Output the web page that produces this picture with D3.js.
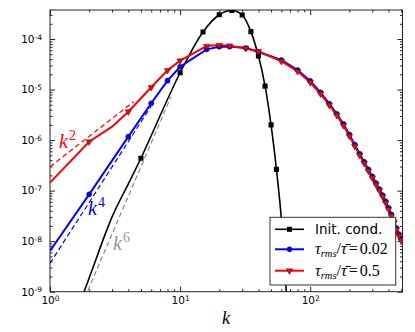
<!DOCTYPE html>
<html>
<head>
<meta charset="utf-8">
<script src="https://cdnjs.cloudflare.com/ajax/libs/d3/7.8.5/d3.min.js"></script>
<style>
  body { margin: 0; background: #fff; }
  svg { display: block; }
  .tick text { font-family: "DejaVu Sans", sans-serif; font-size: 10.5px; fill: #000; }
  .tick line { stroke: #222; }
</style>
</head>
<body>
<div id="chart-area"></div>
<script>
// initial condition spectrum
const kInit = [1, 2, 3, 4, 5, 10, 15, 20, 25, 30, 35, 40, 45, 50, 55, 60, 65, 70];
const eInit = [1.5e-11, 1.87e-9, 3.03e-8, 1.36e-7, 4.37e-7, 2.15e-5, 1.38e-4, 3.02e-4, 3.67e-4,
  2.99e-4, 1.4e-4, 4.6e-5, 1.17e-5, 2.0e-6, 2.63e-7, 2.82e-8, 1.35e-9, 4e-11];
const initMarks = [5, 10, 15, 20, 25, 30, 35, 40, 45, 50, 55];

// tau_rms / tau = 0.02
const kBlue = [1, 2, 4, 6, 8, 10, 16, 20, 24, 32, 40, 60, 80, 100, 120, 140, 160, 180, 200,
  220, 240, 260, 280, 300, 320, 340, 360, 380, 400, 420, 440, 460, 480, 500, 512];
const eBlue = [6.38e-9, 8.45e-8, 1.17e-6, 5.35e-6, 1.5e-5, 2.83e-5, 6.25e-5, 7.05e-5, 7.08e-5,
  6.64e-5, 5.53e-5, 3.84e-5, 2.44e-5, 1.48e-5, 8.81e-6, 5.25e-6, 3.31e-6, 2.09e-6, 1.29e-6,
  8.13e-7, 5.37e-7, 3.72e-7, 2.63e-7, 1.91e-7, 1.41e-7, 1.07e-7, 8.13e-8, 6.17e-8, 4.57e-8,
  3.39e-8, 2.51e-8, 1.82e-8, 1.38e-8, 1.12e-8, 1.0e-8];

// tau_rms / tau = 0.5
const kRed = [1, 2, 3, 4, 6, 8, 10, 16, 20, 24, 32, 40, 60, 80, 100, 120, 140, 160, 180, 200,
  220, 240, 260, 280, 300, 320, 340, 360, 380, 400, 420, 440, 460, 480, 500, 512];
const eRed = [1.44e-7, 9.29e-7, 1.84e-6, 3.65e-6, 1.11e-5, 2.4e-5, 3.72e-5, 7.24e-5, 7.59e-5,
  7.36e-5, 6.55e-5, 5.69e-5, 3.63e-5, 2.29e-5, 1.38e-5, 8.22e-6, 4.9e-6, 3.09e-6, 1.95e-6,
  1.2e-6, 7.59e-7, 5.01e-7, 3.47e-7, 2.45e-7, 1.78e-7, 1.32e-7, 1.0e-7, 7.59e-8, 5.75e-8,
  4.27e-8, 3.16e-8, 2.34e-8, 1.7e-8, 1.29e-8, 1.05e-8, 9.3e-9];

const specMarks = [2, 4, 6, 8, 10, 16, 20, 24, 32, 40, 60, 80, 100, 120, 140, 160, 180, 200,
  220, 240, 260, 280, 300, 320, 340, 360, 380, 400, 420, 440, 460, 480, 500];

// power-law guides (end points)
const guideK2 = [1, 4.4], guideE2 = [2.97e-7, 5.75e-6];
const guideK4 = [1, 6], guideE4 = [3.65e-9, 4.73e-6];
const guideK6 = [1, 8.5], guideE6 = [1.9e-11, 7.17e-6];

const xMajor = [1, 10, 100];
const yMajor = [1e-9, 1e-8, 1e-7, 1e-6, 1e-5, 1e-4];
const legendLabels = ["Init. cond.", "0.02", "0.5"];

const margin = { top: 10, left: 50 };
const width = 352.5,
  height = 281.7;

const svg = d3
  .select("#chart-area")
  .append("svg")
  .attr("width", 415)
  .attr("height", 332);

const g = svg
  .append("g")
  .attr("transform", "translate(" + margin.left + "," + margin.top + ")");

const x = d3.scaleLog().domain([1, 512]).range([0, width]);
const y = d3.scaleLog().domain([1e-9, 3.75e-4]).range([height, 0]);

// minor tick positions
const xMinor = [];
xMajor.forEach(d => d3.range(2, 10).forEach(m => { if (d * m <= 512) xMinor.push(d * m); }));
const yMinor = [];
yMajor.forEach(d => d3.range(2, 10).forEach(m => { if (d * m <= 3.75e-4) yMinor.push(d * m); }));

function sup(sel) {
  sel.selectAll(".tick text").each(function(d) {
    const e = Math.round(Math.log10(d));
    const t = d3.select(this).text("10");
    t.append("tspan")
      .attr("dy", "-0.45em")
      .style("font-size", "7.5px")
      .text(e < 0 ? "-" + -e : e);
  });
}

function addAxis(axis, scale, vals, size, transform, labels) {
  const a = axis(scale).tickValues(vals).tickSize(size).tickSizeOuter(0);
  if (!labels) a.tickFormat("");
  const ag = g.append("g").attr("transform", transform).call(a);
  ag.select(".domain").remove();
  return ag;
}

const xa = addAxis(d3.axisBottom, x, xMajor, -5, "translate(0," + height + ")", true);
xa.selectAll(".tick text").attr("y", 5);
sup(xa);
addAxis(d3.axisBottom, x, xMinor, -2.5, "translate(0," + height + ")", false);
addAxis(d3.axisTop, x, xMajor, -5, "translate(0,0)", false);
addAxis(d3.axisTop, x, xMinor, -2.5, "translate(0,0)", false);

const ya = addAxis(d3.axisLeft, y, yMajor, -5, "translate(0,0)", true);
ya.selectAll(".tick text").attr("x", -8);
sup(ya);
addAxis(d3.axisLeft, y, yMinor, -2.5, "translate(0,0)", false);
addAxis(d3.axisRight, y, yMajor, -5, "translate(" + width + ",0)", false);
addAxis(d3.axisRight, y, yMinor, -2.5, "translate(" + width + ",0)", false);

// frame
g.append("rect")
  .attr("width", width)
  .attr("height", height)
  .attr("fill", "none")
  .attr("stroke", "#222")
  .attr("stroke-width", 1);

g.append("clipPath")
  .attr("id", "clip")
  .append("rect")
  .attr("width", width)
  .attr("height", height);

const plot = g.append("g").attr("clip-path", "url(#clip)");

const line = d3.line().x(d => x(d[0])).y(d => y(d[1]));
const zip = (ks, es) => ks.map((k, i) => [k, es[i]]);

const initData = zip(kInit, eInit);
const blueData = zip(kBlue, eBlue);
const redData = zip(kRed, eRed);

plot.append("path")
  .datum(initData)
  .attr("d", line.curve(d3.curveCatmullRom))
  .attr("fill", "none")
  .attr("stroke", "#000")
  .attr("stroke-width", 1.6);
line.curve(d3.curveLinear);

function guide(ks, es, color) {
  plot.append("path")
    .datum(zip(ks, es))
    .attr("d", line)
    .attr("fill", "none")
    .attr("stroke", color)
    .attr("stroke-width", 1.2)
    .attr("stroke-dasharray", "5,3");
}
guide(guideK6, guideE6, "#888");

plot.append("path")
  .datum(blueData)
  .attr("d", line)
  .attr("fill", "none")
  .attr("stroke", "#0000ff")
  .attr("stroke-width", 2);
guide(guideK4, guideE4, "#0000ff");

plot.append("path")
  .datum(redData)
  .attr("d", line)
  .attr("fill", "none")
  .attr("stroke", "#ff0000")
  .attr("stroke-width", 2);
guide(guideK2, guideE2, "#ff0000");

// markers
const sq = d3.symbol().type(d3.symbolSquare).size(26);
const circ = d3.symbol().type(d3.symbolCircle).size(21);
const tri = d3.symbol().type(d3.symbolTriangle).size(18);

plot.selectAll(".m-init")
  .data(initData.filter(d => initMarks.includes(d[0])))
  .enter()
  .append("path")
  .attr("d", sq)
  .attr("transform", d => "translate(" + x(d[0]) + "," + y(d[1]) + ")")
  .attr("fill", "#000");

plot.selectAll(".m-blue")
  .data(blueData.filter(d => specMarks.includes(d[0])))
  .enter()
  .append("path")
  .attr("d", circ)
  .attr("transform", d => "translate(" + x(d[0]) + "," + y(d[1]) + ")")
  .attr("fill", "#0000ff")
  .attr("stroke", "#222")
  .attr("stroke-width", 0.5);

plot.selectAll(".m-red")
  .data(redData.filter(d => specMarks.includes(d[0])))
  .enter()
  .append("path")
  .attr("d", tri)
  .attr("transform", d => "translate(" + x(d[0]) + "," + y(d[1]) + ") rotate(180)")
  .attr("fill", "#ff0000")
  .attr("stroke", "#222")
  .attr("stroke-width", 0.5);

// power-law labels
function powLabel(px, py, n, color) {
  const t = g.append("text")
    .attr("x", px)
    .attr("y", py)
    .attr("font-family", "'Liberation Serif', serif")
    .attr("font-style", "italic")
    .attr("font-size", 20)
    .attr("fill", color)
    .text("k");
  t.append("tspan")
    .attr("dy", -8)
    .attr("dx", 1)
    .attr("font-style", "normal")
    .attr("font-size", 14)
    .text(n);
}
powLabel(9, 138, 2, "#ff0000");
powLabel(38, 205, 4, "#0000ff");
powLabel(63, 240, 6, "#999");

// x label
g.append("text")
  .attr("x", 176)
  .attr("y", 314)
  .attr("font-family", "'Liberation Serif', serif")
  .attr("font-style", "italic")
  .attr("font-size", 18)
  .attr("text-anchor", "middle")
  .text("k");

// legend
const lg = svg.append("g").attr("transform", "translate(270,217.3)");
lg.append("rect")
  .attr("width", 125.7)
  .attr("height", 67.7)
  .attr("fill", "#fff")
  .attr("stroke", "#333")
  .attr("stroke-width", 1);

const legColors = ["#000", "#0000ff", "#ff0000"];
const legSyms = [sq, circ, tri];
const rowY = [12, 32, 53.4];

legendLabels.forEach((lab, i) => {
  lg.append("line")
    .attr("x1", 5)
    .attr("x2", 34)
    .attr("y1", rowY[i])
    .attr("y2", rowY[i])
    .attr("stroke", legColors[i])
    .attr("stroke-width", i === 0 ? 1.6 : 2);
  lg.append("path")
    .attr("d", legSyms[i])
    .attr("transform", "translate(19.5," + rowY[i] + ")" + (i === 2 ? " rotate(180)" : ""))
    .attr("fill", legColors[i])
    .attr("stroke", i === 0 ? "none" : "#222")
    .attr("stroke-width", 0.5);

  if (i === 0) {
    lg.append("text")
      .attr("x", 45)
      .attr("y", rowY[i] + 5)
      .attr("font-family", "'DejaVu Sans', sans-serif")
      .attr("font-size", 13.5)
      .text(lab);
  } else {
    const t = lg.append("text")
      .attr("x", 45)
      .attr("y", rowY[i] + 5)
      .attr("font-family", "'Liberation Serif', serif")
      .attr("font-size", 16);
    t.append("tspan").attr("font-style", "italic").text("\u03c4");
    t.append("tspan").attr("font-style", "italic").attr("font-size", 10.5).attr("dy", 3).text("rms");
    t.append("tspan").attr("dy", -3).text("/");
    t.append("tspan").attr("font-style", "italic").text("\u03c4\u0304");
    t.append("tspan").attr("dx", 2).text("=");
    t.append("tspan").attr("dx", 2).text(lab);
  }
});
</script>
</body>
</html>
